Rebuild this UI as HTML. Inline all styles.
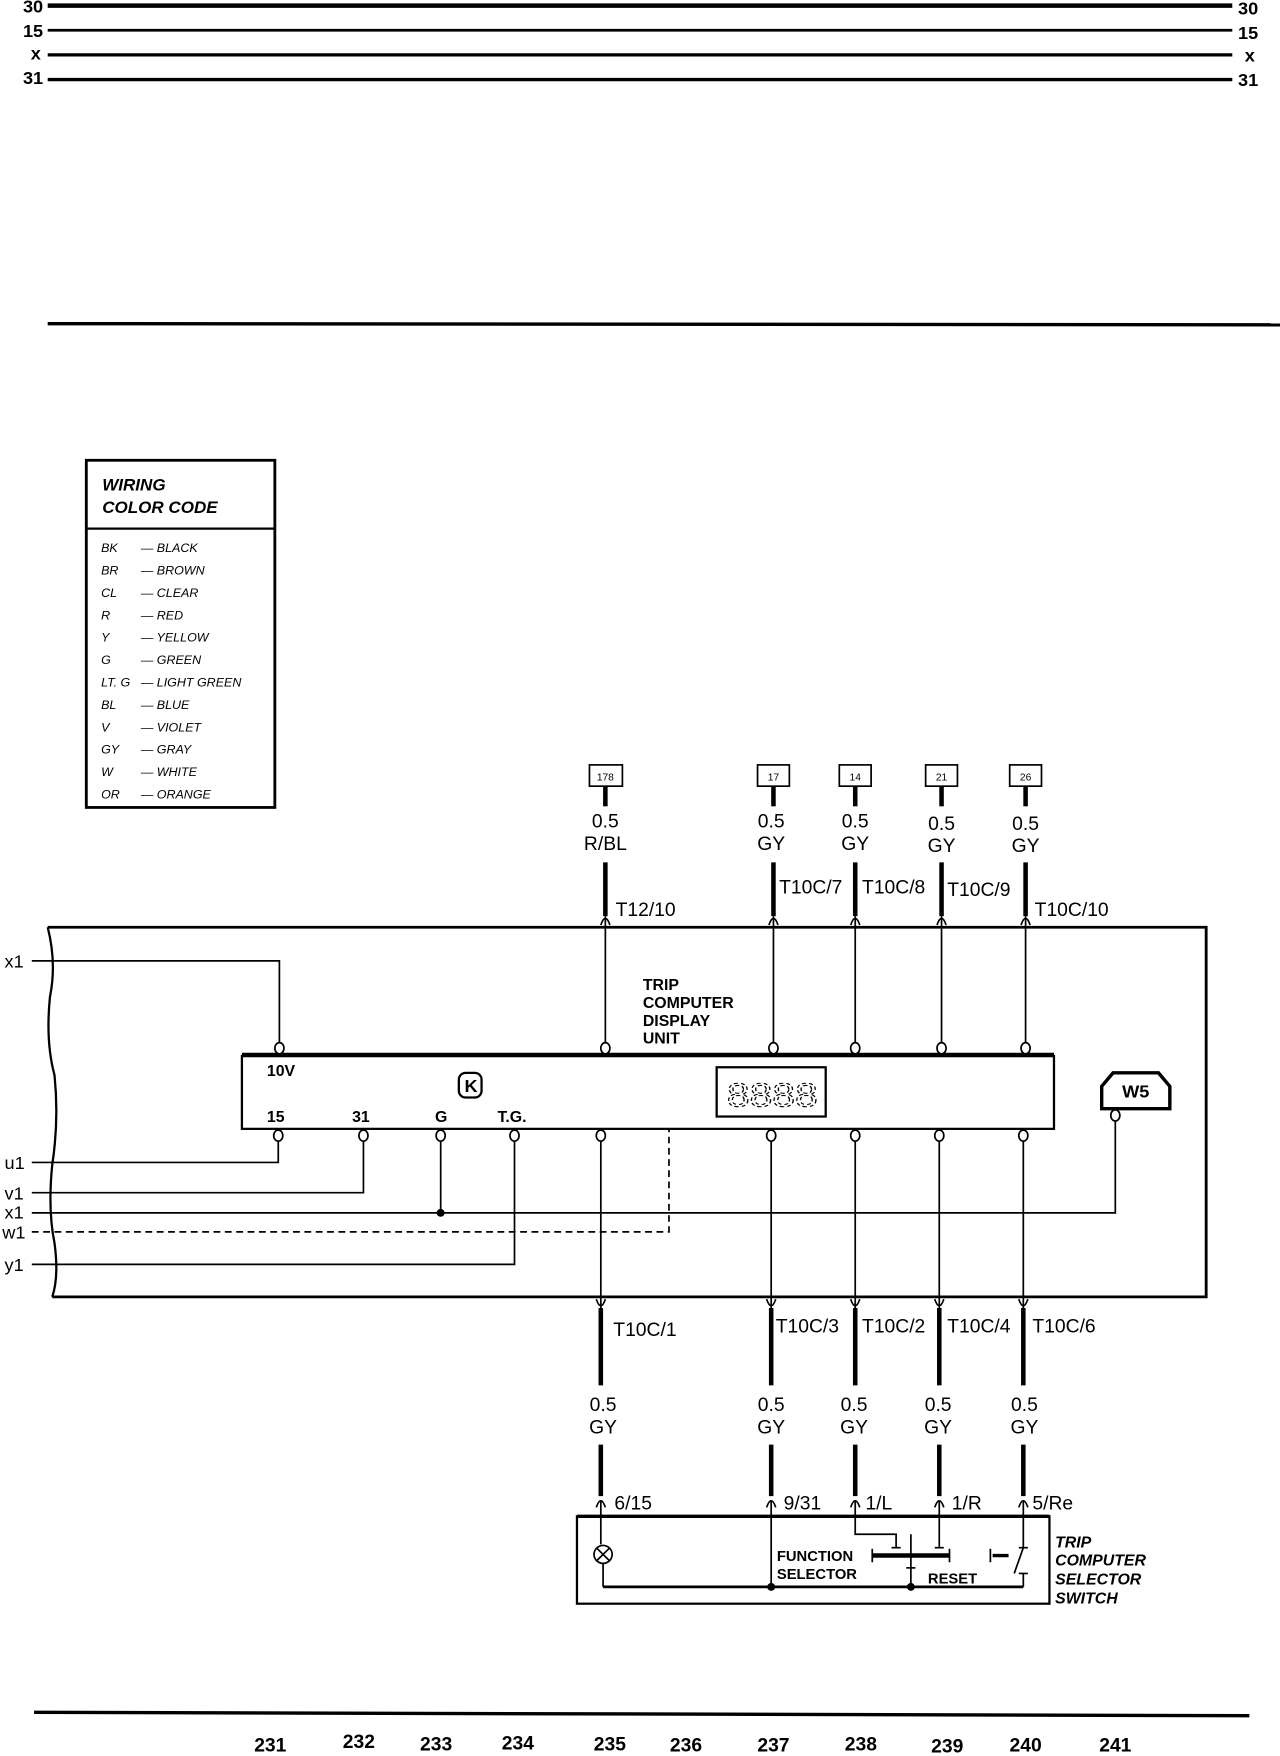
<!DOCTYPE html>
<html><head><meta charset="utf-8"><style>
html,body{margin:0;padding:0;background:#fff}
svg{display:block}
text{font-family:"Liberation Sans Narrow","Liberation Sans",sans-serif;fill:#000}
.b{font-weight:bold}
.bi{font-weight:bold;font-style:italic}
</style></head><body>
<svg width="1280" height="1756" viewBox="0 0 1127 1568" preserveAspectRatio="none" xmlns="http://www.w3.org/2000/svg">
<g stroke="#000" fill="none">
<!-- buses -->
<line x1="42" y1="5" x2="1085" y2="5" stroke-width="4"/>
<line x1="42" y1="27" x2="1085" y2="27" stroke-width="2.5"/>
<line x1="42" y1="49" x2="1085" y2="49" stroke-width="3"/>
<line x1="42" y1="71" x2="1085" y2="71" stroke-width="3"/>
<line x1="42" y1="289" x2="1127" y2="290" stroke-width="3"/>
<!-- legend -->
<rect x="76" y="411" width="166" height="310" stroke-width="2.5"/>
<line x1="76" y1="472" x2="242" y2="472" stroke-width="2"/>
<!-- top connectors -->
<rect x="519" y="683" width="29" height="19" stroke-width="1.5"/>
<rect x="667" y="683" width="28" height="19" stroke-width="1.5"/>
<rect x="739" y="683" width="28" height="19" stroke-width="1.5"/>
<rect x="815" y="683" width="28" height="19" stroke-width="1.5"/>
<rect x="889" y="683" width="28" height="19" stroke-width="1.5"/>
<g stroke-width="4">
<line x1="533" y1="702" x2="533" y2="720"/><line x1="681" y1="702" x2="681" y2="720"/><line x1="753" y1="702" x2="753" y2="720"/><line x1="829" y1="702" x2="829" y2="720"/><line x1="903" y1="702" x2="903" y2="720"/>
<line x1="533" y1="770" x2="533" y2="818"/><line x1="681" y1="770" x2="681" y2="818"/><line x1="753" y1="770" x2="753" y2="818"/><line x1="829" y1="770" x2="829" y2="818"/><line x1="903" y1="770" x2="903" y2="818"/>
</g>
<!-- arrows top -->
<g stroke-width="1.5">
<path d="M529,826 Q533,814 537,826"/><path d="M677,826 Q681,814 685,826"/><path d="M749,826 Q753,814 757,826"/><path d="M825,826 Q829,814 833,826"/><path d="M899,826 Q903,814 907,826"/>
</g>
<!-- outer box -->
<path d="M42,828 L1062,828 L1062,1158 L46,1158" stroke-width="2.5"/>
<path d="M42,828 Q50,860 44,890 Q40,930 48,960 Q52,1000 46,1040 Q42,1080 48,1110 Q52,1140 46,1158" stroke-width="2"/>
<!-- vertical thin wires top -->
<g stroke-width="1.5">
<line x1="533" y1="818" x2="533" y2="931"/><line x1="681" y1="818" x2="681" y2="931"/><line x1="753" y1="818" x2="753" y2="931"/><line x1="829" y1="818" x2="829" y2="931"/><line x1="903" y1="818" x2="903" y2="931"/>
<polyline points="28,858 246,858 246,931"/>
</g>
<!-- inner box -->
<rect x="213" y="943" width="715" height="65" stroke-width="2"/>
<line x1="213" y1="942" x2="928" y2="942" stroke-width="4"/>
<g stroke-width="1.5" fill="#fff">
<ellipse cx="246" cy="936" rx="4" ry="5"/><ellipse cx="533" cy="936" rx="4" ry="5"/><ellipse cx="681" cy="936" rx="4" ry="5"/><ellipse cx="753" cy="936" rx="4" ry="5"/><ellipse cx="829" cy="936" rx="4" ry="5"/><ellipse cx="903" cy="936" rx="4" ry="5"/>
<ellipse cx="245" cy="1014" rx="4" ry="5"/><ellipse cx="320" cy="1014" rx="4" ry="5"/><ellipse cx="388" cy="1014" rx="4" ry="5"/><ellipse cx="453" cy="1014" rx="4" ry="5"/><ellipse cx="529" cy="1014" rx="4" ry="5"/><ellipse cx="679" cy="1014" rx="4" ry="5"/><ellipse cx="753" cy="1014" rx="4" ry="5"/><ellipse cx="827" cy="1014" rx="4" ry="5"/><ellipse cx="901" cy="1014" rx="4" ry="5"/>
<ellipse cx="982" cy="996" rx="4" ry="5"/>
</g>
<!-- K symbol -->
<rect x="404" y="958" width="20" height="22" rx="6" stroke-width="2"/>
<!-- display -->
<rect x="631" y="953" width="96" height="44" stroke-width="2"/>
<!-- W5 -->
<path d="M970,990 L970,970 L980,958 L1020,958 L1030,970 L1030,990 Z" stroke-width="3"/>
<!-- left wires -->
<g stroke-width="1.5">
<polyline points="28,1038 245,1038 245,1019"/>
<polyline points="28,1065 320,1065 320,1019"/>
<polyline points="28,1083 982,1083 982,1001"/>
<line x1="388" y1="1019" x2="388" y2="1083"/>
<polyline points="28,1129 453,1129 453,1019"/>
<polyline points="28,1100 589,1100 589,1008" stroke-dasharray="6,4"/>
<line x1="529" y1="1019" x2="529" y2="1168"/><line x1="679" y1="1019" x2="679" y2="1168"/><line x1="753" y1="1019" x2="753" y2="1168"/><line x1="827" y1="1019" x2="827" y2="1168"/><line x1="901" y1="1019" x2="901" y2="1168"/>
<path d="M525,1160 Q529,1172 533,1160"/><path d="M675,1160 Q679,1172 683,1160"/><path d="M749,1160 Q753,1172 757,1160"/><path d="M823,1160 Q827,1172 831,1160"/><path d="M897,1160 Q901,1172 905,1160"/>
</g>
<g stroke-width="4">
<line x1="529" y1="1168" x2="529" y2="1237"/><line x1="679" y1="1168" x2="679" y2="1237"/><line x1="753" y1="1168" x2="753" y2="1237"/><line x1="827" y1="1168" x2="827" y2="1237"/><line x1="901" y1="1168" x2="901" y2="1237"/>
<line x1="529" y1="1290" x2="529" y2="1336"/><line x1="679" y1="1290" x2="679" y2="1336"/><line x1="753" y1="1290" x2="753" y2="1336"/><line x1="827" y1="1290" x2="827" y2="1336"/><line x1="901" y1="1290" x2="901" y2="1336"/>
</g>
<g stroke-width="1.5">
<path d="M525,1346 Q529,1334 533,1346"/><path d="M675,1346 Q679,1334 683,1346"/><path d="M749,1346 Q753,1334 757,1346"/><path d="M823,1346 Q827,1334 831,1346"/><path d="M897,1346 Q901,1334 905,1346"/>
</g>
<!-- switch box -->
<rect x="508" y="1354" width="416" height="78" stroke-width="2"/>
<line x1="508" y1="1354" x2="924" y2="1354" stroke-width="3"/>
<g stroke-width="1.5">
<line x1="529" y1="1340" x2="529" y2="1379"/>
<circle cx="531" cy="1388" r="8"/><line x1="525" y1="1382" x2="537" y2="1394"/><line x1="537" y1="1382" x2="525" y2="1394"/>
<line x1="531" y1="1396" x2="531" y2="1417"/>
<line x1="679" y1="1340" x2="679" y2="1417"/>
<polyline points="753,1340 753,1370 789,1370 789,1382"/><line x1="785" y1="1382" x2="793" y2="1382"/>
<line x1="827" y1="1340" x2="827" y2="1382"/><line x1="823" y1="1382" x2="831" y2="1382"/>
<line x1="901" y1="1340" x2="901" y2="1382"/><line x1="897" y1="1382" x2="905" y2="1382"/>
<line x1="901" y1="1382" x2="893" y2="1405"/>
<line x1="897" y1="1405" x2="905" y2="1405"/><line x1="901" y1="1405" x2="901" y2="1417"/>
<line x1="802" y1="1370" x2="802" y2="1400"/><line x1="798" y1="1400" x2="806" y2="1400"/><line x1="802" y1="1400" x2="802" y2="1417"/>
<line x1="531" y1="1417" x2="901" y2="1417" stroke-width="2.5"/>
<line x1="768" y1="1389" x2="836" y2="1389" stroke-width="4"/>
<line x1="768" y1="1383" x2="768" y2="1395"/><line x1="836" y1="1383" x2="836" y2="1395"/>
<line x1="872" y1="1383" x2="872" y2="1395"/><line x1="874" y1="1389" x2="888" y2="1389" stroke-width="3"/>
</g>
<circle cx="388" cy="1083" r="3.5" fill="#000" stroke="none"/>
<circle cx="679" cy="1417" r="3.5" fill="#000" stroke="none"/>
<circle cx="802" cy="1417" r="3.5" fill="#000" stroke="none"/>
<line x1="30" y1="1529" x2="1100" y2="1532" stroke-width="3"/>
</g>
<!-- text -->
<g class="b" font-size="16">
<text x="38" y="11" text-anchor="end">30</text><text x="38" y="33" text-anchor="end">15</text><text x="36" y="53" text-anchor="end">x</text><text x="38" y="75" text-anchor="end">31</text>
<text x="1090" y="13">30</text><text x="1090" y="35">15</text><text x="1096" y="55">x</text><text x="1090" y="77">31</text>
</g>
<text x="90" y="438" class="bi" font-size="15">WIRING</text>
<text x="90" y="458" class="bi" font-size="15">COLOR CODE</text>
<g font-size="11" font-style="italic">
<text x="89" y="493">BK</text><text x="124" y="493">— BLACK</text>
<text x="89" y="513">BR</text><text x="124" y="513">— BROWN</text>
<text x="89" y="533">CL</text><text x="124" y="533">— CLEAR</text>
<text x="89" y="553">R</text><text x="124" y="553">— RED</text>
<text x="89" y="573">Y</text><text x="124" y="573">— YELLOW</text>
<text x="89" y="593">G</text><text x="124" y="593">— GREEN</text>
<text x="89" y="613">LT. G</text><text x="124" y="613">— LIGHT GREEN</text>
<text x="89" y="633">BL</text><text x="124" y="633">— BLUE</text>
<text x="89" y="653">V</text><text x="124" y="653">— VIOLET</text>
<text x="89" y="673">GY</text><text x="124" y="673">— GRAY</text>
<text x="89" y="693">W</text><text x="124" y="693">— WHITE</text>
<text x="89" y="713">OR</text><text x="124" y="713">— ORANGE</text>
</g>
<g font-size="9" text-anchor="middle">
<text x="533" y="697">178</text><text x="681" y="697">17</text><text x="753" y="697">14</text><text x="829" y="697">21</text><text x="903" y="697">26</text>
</g>
<g font-size="17" text-anchor="middle">
<text x="533" y="739">0.5</text><text x="533" y="759">R/BL</text>
<text x="679" y="739">0.5</text><text x="679" y="759">GY</text>
<text x="753" y="739">0.5</text><text x="753" y="759">GY</text>
<text x="829" y="741">0.5</text><text x="829" y="761">GY</text>
<text x="903" y="741">0.5</text><text x="903" y="761">GY</text>
<text x="531" y="1260">0.5</text><text x="531" y="1280">GY</text>
<text x="679" y="1260">0.5</text><text x="679" y="1280">GY</text>
<text x="752" y="1260">0.5</text><text x="752" y="1280">GY</text>
<text x="826" y="1260">0.5</text><text x="826" y="1280">GY</text>
<text x="902" y="1260">0.5</text><text x="902" y="1280">GY</text>
</g>
<g font-size="17">
<text x="542" y="818">T12/10</text><text x="686" y="798">T10C/7</text><text x="759" y="798">T10C/8</text><text x="834" y="800">T10C/9</text><text x="911" y="818">T10C/10</text>
<text x="540" y="1193">T10C/1</text><text x="683" y="1190">T10C/3</text><text x="759" y="1190">T10C/2</text><text x="834" y="1190">T10C/4</text><text x="909" y="1190">T10C/6</text>
<text x="541" y="1348">6/15</text><text x="690" y="1348">9/31</text><text x="762" y="1348">1/L</text><text x="838" y="1348">1/R</text><text x="909" y="1348">5/Re</text>
</g>
<g class="b" font-size="14">
<text x="566" y="884">TRIP</text><text x="566" y="900">COMPUTER</text><text x="566" y="916">DISPLAY</text><text x="566" y="932">UNIT</text>
<text x="235" y="961">10V</text><text x="235" y="1002">15</text><text x="310" y="1002">31</text><text x="383" y="1002">G</text><text x="438" y="1002">T.G.</text>
<text x="409" y="975" font-size="16">K</text>
<text x="1000" y="980" font-size="16" text-anchor="middle">W5</text>
<text x="684" y="1394" font-size="13">FUNCTION</text><text x="684" y="1410" font-size="13">SELECTOR</text><text x="817" y="1414" font-size="13">RESET</text>
</g>
<text x="640" y="988" font-size="30" textLength="80" lengthAdjust="spacingAndGlyphs" fill="none" stroke="#000" stroke-width="1" stroke-dasharray="3,2" style="fill:none">8888</text>
<g class="bi" font-size="14">
<text x="929" y="1382">TRIP</text><text x="929" y="1398">COMPUTER</text><text x="929" y="1415">SELECTOR</text><text x="929" y="1432">SWITCH</text>
</g>
<g font-size="16">
<text x="4" y="864">x1</text><text x="4" y="1044">u1</text><text x="4" y="1071">v1</text><text x="4" y="1088">x1</text><text x="2" y="1106">w1</text><text x="4" y="1135">y1</text>
</g>
<g class="b" font-size="17" text-anchor="middle">
<text x="238" y="1564">231</text><text x="316" y="1561">232</text><text x="384" y="1563">233</text><text x="456" y="1562">234</text><text x="537" y="1563">235</text><text x="604" y="1564">236</text><text x="681" y="1564">237</text><text x="758" y="1563">238</text><text x="834" y="1565">239</text><text x="903" y="1564">240</text><text x="982" y="1564">241</text>
</g>
</svg>
</body></html>
